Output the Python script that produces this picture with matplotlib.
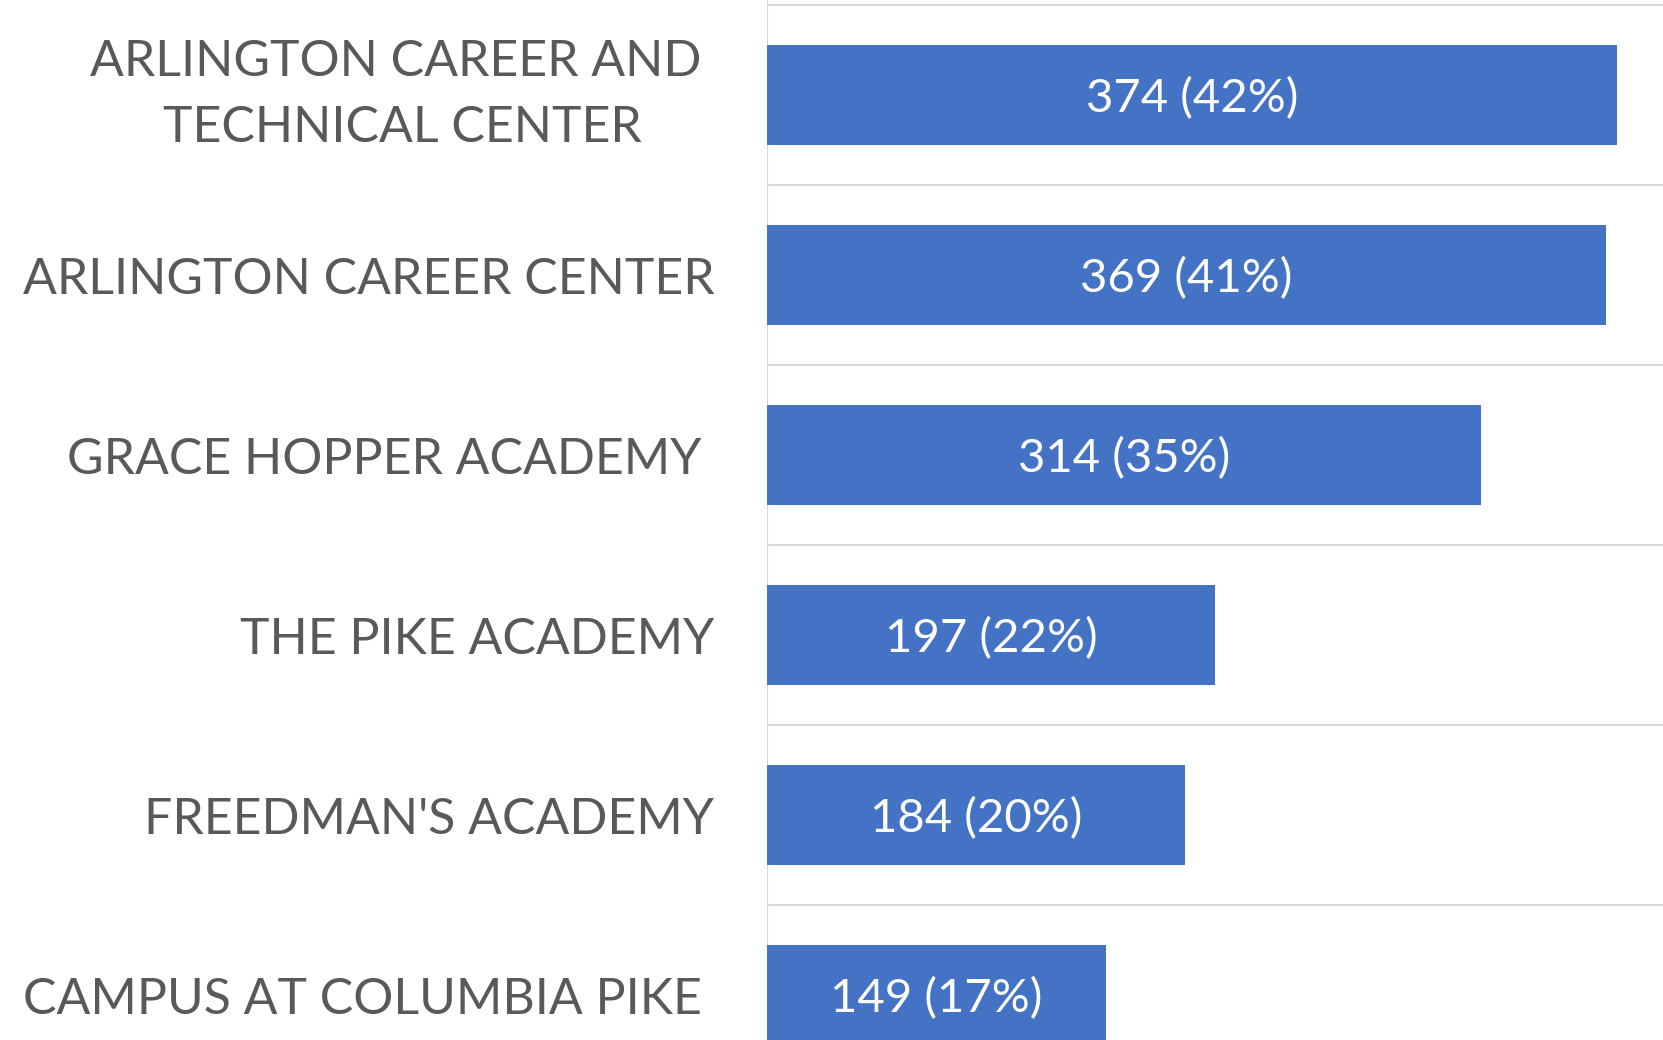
import numpy as np
import matplotlib.pyplot as plt

plt.rcParams['font.family'] = ['Lato', 'DejaVu Sans']

# data (top to bottom)
schools = ["ARLINGTON CAREER AND \nTECHNICAL CENTER",
           "ARLINGTON CAREER CENTER",
           "GRACE HOPPER ACADEMY ",
           "THE PIKE ACADEMY",
           "FREEDMAN'S ACADEMY",
           "CAMPUS AT COLUMBIA PIKE "]
counts = [374, 369, 314, 197, 184, 149]
pcts = [42, 41, 35, 22, 20, 17]

W, H = 1663, 1040
fig = plt.figure(figsize=(W / 100, H / 100), dpi=100)
# plot area starts at x=767px and runs past the right and bottom edges
ax = fig.add_axes([767 / W, 0, (W - 767) / W, 1])

y = np.arange(len(schools))
bars = ax.barh(y, counts, height=0.556, color='#4472C4', zorder=3)

for b, c, p in zip(bars, counts, pcts):
    ax.text(b.get_width() / 2, b.get_y() + b.get_height() / 2,
            f"{c} ({p}%)", ha='center', va='center_baseline',
            color='white', fontsize=34)

ax.set_yticks(y)
ax.set_yticklabels(schools, fontsize=36, color='#595959')
for lbl in ax.get_yticklabels():
    if "\n" in lbl.get_text():
        lbl.set_multialignment('center')
        lbl.set_linespacing(1.55)
        lbl.set_va('center')
ax.tick_params(axis='y', length=0, pad=38)
ax.set_xticks([])

ax.set_yticks(np.arange(-0.5, len(schools), 1), minor=True)
ax.tick_params(axis='y', which='minor', length=0)
ax.grid(axis='y', which='minor', color='#D9D9D9', linewidth=1.5, zorder=1)
ax.axvline(0, color='#D9D9D9', linewidth=1.5, zorder=2)

ax.set_xlim(0, (W - 767) / 2.273)
ax.set_ylim(-0.5 + (H - 5) / 180, -0.5 - 5 / 180)

for s in ax.spines.values():
    s.set_visible(False)

fig.savefig("out.png", dpi=100)
